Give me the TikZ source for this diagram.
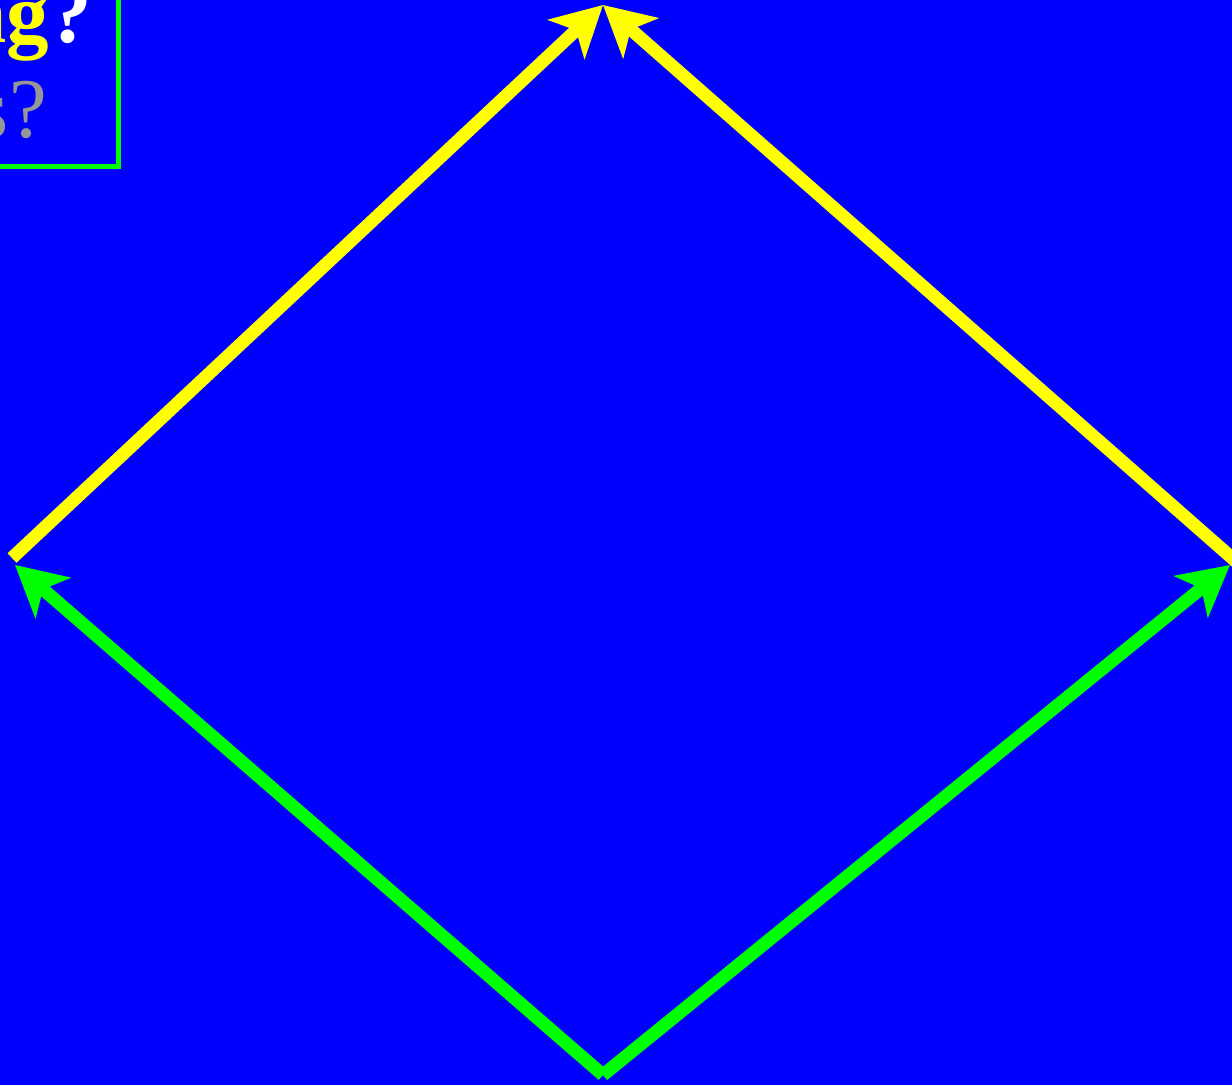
\documentclass[tikz,border=0pt]{standalone}
\usepackage{fontspec}
\setmainfont{Liberation Serif}
\usetikzlibrary{arrows.meta}
\definecolor{bgblue}{RGB}{0,0,255}
\definecolor{ygreen}{RGB}{0,255,0}
\definecolor{pyellow}{RGB}{255,255,0}
\definecolor{tgray}{RGB}{150,150,150}
\tikzset{
  yarrow/.style={draw=pyellow, line width=13pt, -{Stealth[length=50pt,width=53pt,inset=13pt]}},
  garrow/.style={draw=ygreen, line width=13pt, -{Stealth[length=50pt,width=53pt,inset=13pt]}},
  bigtext/.style={inner sep=0pt, font=\fontsize{85}{95}\selectfont},
}
\begin{document}
\begin{tikzpicture}[x=1pt,y=1pt]
\useasboundingbox (0,0) rectangle (1232,1085);
\fill[bgblue] (0,0) rectangle (1232,1085);
\clip (0,0) rectangle (1232,1085);
% text box
\draw[ygreen, line width=5pt] (-200,918.5) rectangle (118.5,1200);
\node[bigtext, anchor=base east] (l1) at (92,1042) {\bfseries\textcolor{pyellow}{ng}\textcolor{white}{?}};
\node[bigtext, anchor=base east, text=tgray] (l2) at (47,947) {s?};
% vertices
\coordinate (top) at (603,1080);
\coordinate (ystartl) at (12,527);
\coordinate (ystartr) at (1240,520);
\coordinate (bot) at (603,10);
\coordinate (gl) at (15,520);
\coordinate (gr) at (1230,520);
\draw[yarrow] (ystartl) -- (top);
\draw[yarrow] (ystartr) -- (top);
\draw[garrow] (bot) -- (gl);
\draw[garrow] (bot) -- (gr);
\end{tikzpicture}
\end{document}
